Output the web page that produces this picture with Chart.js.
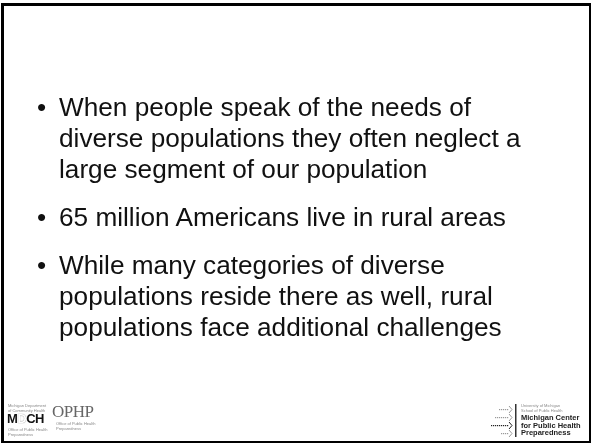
<!DOCTYPE html>
<html>
<head>
<meta charset="utf-8">
<script src="https://cdn.jsdelivr.net/npm/chart.js@4.4.1/dist/chart.umd.min.js"></script>
<style>
  html, body { margin: 0; padding: 0; background: #fff; }
  #slide { position: relative; width: 591px; height: 445px; overflow: hidden; font-family: "Liberation Sans", Arial, sans-serif; }
  #frame { position: absolute; left: 0; top: 0; }
  #bullets { position: absolute; left: 37px; top: 92px; width: 545px; margin: 0; padding: 0; list-style: none; color: #111; font-size: 26.2px; line-height: 31px; }
  #bullets li { position: relative; padding-left: 22px; margin-bottom: 17px; }
  #bullets li::before { content: "\2022"; position: absolute; left: 0; top: 0; }
  .tiny { position: absolute; font-size: 4px; color: #888; line-height: 5px; }
  .logoR { position: absolute; left: 521px; top: 414px; font-size: 7.5px; font-weight: bold; line-height: 7.5px; color: #222; }
</style>
</head>
<body>
<div id="slide">
  <canvas id="frame" width="591" height="445"></canvas>
  <ul id="bullets"></ul>

  <div class="tiny" style="left:8px;top:403px;width:40px;">Michigan Department<br>of Community Health</div>
  <div style="position:absolute;left:7px;top:411px;font-size:13px;font-weight:bold;letter-spacing:-0.5px;color:#111;">M<span style="color:#fff;text-shadow:0 0 1px #666;">D</span>CH</div>
  <div class="tiny" style="left:8px;top:427px;width:40px;">Office of Public Health<br>Preparedness</div>
  <div style="position:absolute;left:52px;top:402px;font-family:'Liberation Serif',serif;font-size:17px;color:#666;letter-spacing:-0.5px;">OPHP</div>
  <div class="tiny" style="left:56px;top:421px;width:50px;">Office of Public Health Preparedness</div>

  <div class="tiny" style="left:521px;top:403px;width:66px;">University of Michigan<br>School of Public Health</div>
  <div class="logoR">Michigan Center<br>for Public Health<br>Preparedness</div>
</div>
<script>
const lineBreaks = [
  ["When people speak of the needs of", "diverse populations they often neglect a", "large segment of our population"],
  ["65 million Americans live in rural areas"],
  ["While many categories of diverse", "populations reside there as well, rural", "populations face additional challenges"]
];
// arrow rows of the right logo: length of each dotted arrow
const arrowRows = [12, 16, 20, 10];
const arrowShades = ["#999", "#999", "#222", "#999"];

const list = document.getElementById("bullets");
lineBreaks.forEach((lines) => {
  const li = document.createElement("li");
  li.innerHTML = lines.join("<br>");
  list.appendChild(li);
});

const framePlugin = {
  id: "slideFrame",
  afterDraw: function (chart) {
    const ctx = chart.ctx;
    ctx.save();
    ctx.fillStyle = "#000";
    ctx.fillRect(1, 3, 590, 3);
    ctx.fillRect(1, 3, 3, 440);
    ctx.fillRect(1, 441, 590, 2);
    ctx.fillRect(589, 3, 2, 440);
    // right logo
    ctx.fillStyle = "#333";
    ctx.fillRect(515, 404, 1.5, 33);
    arrowRows.forEach((len, i) => {
      const y = 409 + i * 8;
      ctx.fillStyle = arrowShades[i];
      for (let x = 511 - len; x < 509; x += 2) ctx.fillRect(x, y, 1.2, 1.2);
      ctx.beginPath();
      ctx.moveTo(509, y - 3);
      ctx.lineTo(512, y + 0.5);
      ctx.lineTo(509, y + 4);
      ctx.strokeStyle = arrowShades[i];
      ctx.lineWidth = 1;
      ctx.stroke();
    });
    ctx.restore();
  }
};

new Chart(document.getElementById("frame"), {
  type: "scatter",
  data: { datasets: [{ data: [] }] },
  options: {
    responsive: false,
    animation: false,
    plugins: { legend: { display: false }, tooltip: { enabled: false } },
    scales: { x: { display: false }, y: { display: false } }
  },
  plugins: [framePlugin]
});
</script>
</body>
</html>
